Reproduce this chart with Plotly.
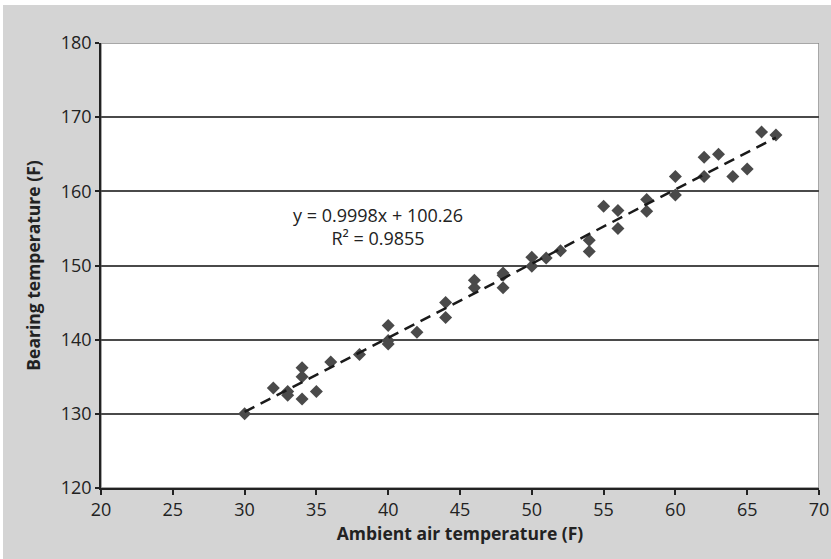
import plotly.graph_objects as go

# Data
ambient = [30, 32, 33, 33, 34, 34, 34, 35, 36, 38, 40, 40, 40, 42, 44, 44, 46, 46,
           48, 48, 48, 50, 50, 51, 52, 54, 54, 55, 56, 56, 58, 58, 60, 60, 62, 62,
           63, 64, 65, 66, 67]
bearing = [130, 133.5, 133, 132.5, 136.2, 135, 132, 133, 137, 138, 141.9, 139.9, 139.4,
           141, 145, 143, 148, 147, 149, 148.7, 147, 151.1, 149.9, 151, 152, 153.4, 151.9,
           158, 157.4, 155, 158.9, 157.3, 162, 159.5, 164.6, 162, 165, 162, 163, 168, 167.6]
slope = 0.9998
intercept = 100.26
r2 = 0.9855
trend_x = [min(ambient), max(ambient)]
trend_y = [slope * v + intercept for v in trend_x]
x_ticks = [20, 25, 30, 35, 40, 45, 50, 55, 60, 65, 70]
y_ticks = [120, 130, 140, 150, 160, 170, 180]

W, H = 831, 559
ml, mr, mt, mb = 101, 12, 43, 71
pw, ph = W - ml - mr, H - mt - mb

fig = go.Figure()
fig.add_trace(go.Scatter(
    x=ambient, y=bearing, mode="markers",
    marker=dict(symbol="diamond", size=10, color="#4a4a4a"),
    showlegend=False, hoverinfo="skip"))
fig.add_trace(go.Scatter(
    x=trend_x, y=trend_y, mode="lines",
    line=dict(color="#1a1a1a", width=2.5, dash="11px,7px"),
    showlegend=False, hoverinfo="skip"))

fig.add_annotation(
    x=39.3, y=155.2, xref="x", yref="y",
    text=f"y = {slope}x + {intercept}<br>R² = {r2}",
    showarrow=False, align="center",
    font=dict(family="Open Sans", size=18, color="#222"))

# gray page with a thin white border on top/left
fig.add_shape(type="rect", xref="paper", yref="paper", layer="below",
              x0=(3 - ml) / pw, x1=(W + 5 - ml) / pw,
              y0=-(mb + 5) / ph, y1=(H - mb - 5) / ph,
              fillcolor="#d4d4d4", line=dict(width=0))
fig.add_shape(type="rect", xref="x", yref="y", layer="below",
              x0=20, x1=70, y0=120, y1=180,
              fillcolor="white", line=dict(color="#8a8a8a", width=1.5))

fig.update_layout(
    width=W, height=H,
    margin=dict(l=ml, r=mr, t=mt, b=mb, autoexpand=False),
    paper_bgcolor="white", plot_bgcolor="white",
    font=dict(family="Open Sans", color="#222"),
    xaxis=dict(
        range=[20, 70], tickvals=x_ticks, ticks="outside", ticklen=5,
        tickcolor="#222", tickwidth=1.5, showgrid=False, zeroline=False,
        showline=True, linecolor="#222", linewidth=1.5, automargin=False,
        tickfont=dict(size=18, color="#222"),
        title=dict(text="<b>Ambient air temperature (F)</b>",
                   font=dict(size=17.5, color="#222"), standoff=6)),
    yaxis=dict(
        range=[120, 180], tickvals=y_ticks, ticks="outside", ticklen=4,
        tickcolor="#222", tickwidth=1.5, showgrid=True, gridcolor="#4a4a4a",
        gridwidth=1.5, zeroline=False, automargin=False,
        showline=True, linecolor="#222", linewidth=1.5,
        tickfont=dict(size=18, color="#222"),
        title=dict(text="<b>Bearing temperature (F)</b>",
                   font=dict(size=17.5, color="#222"), standoff=16)),
)

fig.write_html("out.html")
